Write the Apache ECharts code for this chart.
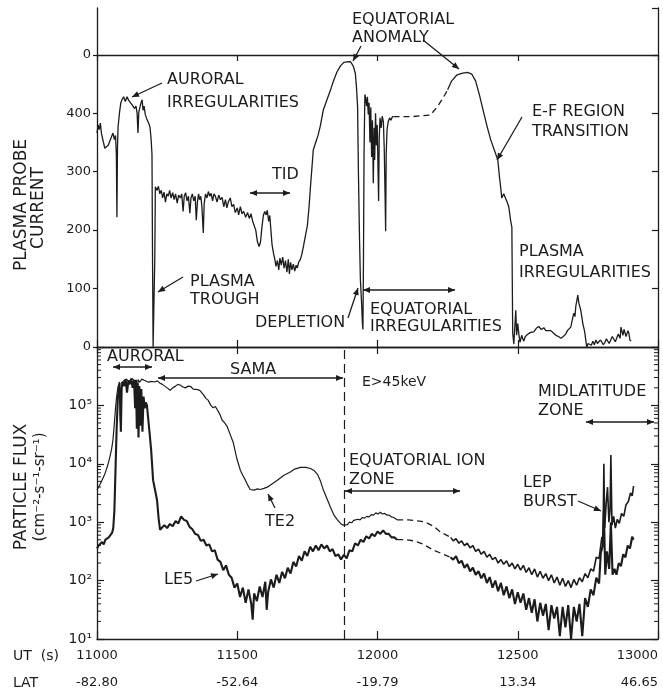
<!DOCTYPE html>
<html><head><meta charset="utf-8">
<script src="https://cdn.jsdelivr.net/npm/echarts@6/dist/echarts.min.js"></script>
<style>html,body{margin:0;padding:0;background:#fff}#c{width:663px;height:688px}</style>
</head><body><div id="c"></div>
<script>
// ---- tick labels ----
const utTicks = [11000, 11500, 12000, 12500, 13000];
const latTicks = ['-82.80', '-52.64', '-19.79', '13.34', '46.65'];
const probeTicks = [0, 100, 200, 300, 400, 500];
const probeTickLabels = ['0', '100', '200', '300', '400', '0'];
const fluxDecades = [1, 2, 3, 4, 5];
const boundaryUT = 11880;

// ---- plasma probe current [UT, current] ----
const plasmaA = [[11000,366],[11004,380],[11008,372],[11012,383],[11016,365],[11022,352],[11028,340],[11034,337],[11040,345],[11046,342],[11052,360],[11057,366],[11062,355],[11066,362],[11069,330],[11071,222],[11073,340],[11075,376],[11080,400],[11085,418],[11089,423],[11095,428],[11101,420],[11107,428],[11113,422],[11119,425],[11124,415],[11129,417],[11134,408],[11139,412],[11143,400],[11146,366],[11149,402],[11153,410],[11157,418],[11161,423],[11164,405],[11168,412],[11172,398],[11176,392],[11180,394],[11185,382],[11189,376],[11193,355],[11196,330],[11198,150],[11200,0],[11204,0],[11206,150],[11208,274],[11214,268],[11219,275],[11224,262],[11229,268],[11234,255],[11239,265],[11244,248],[11249,262],[11254,258],[11259,268],[11264,255],[11270,264],[11275,252],[11280,262],[11286,246],[11291,260],[11297,255],[11302,262],[11307,232],[11311,258],[11316,264],[11321,250],[11326,258],[11331,229],[11335,255],[11340,262],[11345,250],[11350,258],[11354,217],[11358,248],[11362,262],[11366,252],[11370,258],[11374,240],[11379,195],[11382,245],[11387,262],[11392,255],[11397,266],[11402,258],[11407,263],[11412,250],[11417,262],[11422,258],[11428,248],[11434,260],[11440,252],[11446,256],[11452,240],[11458,252],[11463,238],[11468,248],[11475,255],[11481,240],[11487,244],[11493,230],[11500,238],[11505,226],[11511,240],[11517,228],[11523,232],[11530,222],[11537,230],[11543,220],[11549,228],[11555,215],[11560,218],[11566,200],[11572,180],[11578,172],[11583,180],[11588,205],[11593,225],[11598,232],[11603,226],[11607,234],[11612,215],[11616,225],[11620,200],[11624,175],[11629,161],[11634,150],[11638,138],[11643,148],[11648,132],[11652,152],[11657,140],[11662,154],[11667,135],[11672,148],[11677,128],[11682,150],[11686,125],[11690,145],[11695,132],[11700,142],[11705,130],[11710,140],[11714,135],[11719,145],[11725,150],[11730,158],[11736,172],[11743,190],[11750,208],[11756,240],[11761,274],[11766,305],[11771,337],[11779,349],[11788,362],[11796,378],[11807,406],[11816,418],[11825,430],[11834,442],[11843,455],[11855,470],[11868,481],[11880,487],[11893,488],[11904,488],[11914,480],[11921,468],[11925,445],[11929,411],[11932,298],[11936,183],[11939,115],[11943,78],[11946,42],[11948,30],[11950,150],[11952,330],[11955,432],[11958,425],[11961,412],[11964,428],[11967,398],[11970,418],[11973,350],[11976,410],[11979,325],[11982,388],[11985,280],[11988,375],[11990,320],[11993,400],[11996,345],[11999,380],[12002,300],[12004,250],[12006,355],[12009,392],[12013,375],[12017,395],[12021,385],[12024,340],[12027,260],[12029,198],[12031,330],[12034,372],[12038,385],[12043,392],[12048,388],[12053,394],[12057,394]];
const plasmaGap = [[12057,394],[12120,394],[12189,397],[12215,412],[12236,428],[12250,440]];
const plasmaB = [[12250,440],[12264,455],[12282,465],[12300,468],[12321,470],[12336,467],[12350,455],[12364,430],[12379,400],[12392,375],[12404,354],[12418,335],[12429,320],[12435,290],[12439,274],[12443,255],[12446,252],[12450,262],[12457,265],[12462,248],[12468,240],[12475,215],[12479,205],[12482,24],[12486,5],[12489,30],[12493,63],[12496,20],[12500,40],[12504,22],[12508,8],[12514,20],[12521,10],[12527,18],[12536,22],[12546,25],[12557,26],[12566,32],[12575,35],[12584,30],[12593,33],[12600,28],[12607,30],[12618,28],[12627,24],[12636,20],[12645,18],[12654,15],[12662,18],[12671,22],[12677,28],[12682,26],[12689,34],[12696,50],[12700,58],[12704,52],[12707,70],[12711,80],[12714,89],[12718,75],[12721,78],[12725,62],[12729,50],[12732,40],[12736,32],[12739,25],[12743,10],[12746,0],[12751,6],[12757,8],[12762,3],[12768,10],[12773,4],[12779,12],[12784,6],[12789,5],[12795,12],[12800,10],[12805,4],[12811,8],[12816,14],[12821,15],[12826,6],[12832,8],[12837,18],[12843,17],[12848,9],[12854,12],[12858,22],[12861,25],[12865,15],[12868,34],[12872,26],[12875,20],[12879,30],[12882,32],[12886,18],[12889,15],[12893,28],[12896,24],[12900,12],[12904,10]];

// ---- particle flux, stored as log10 of flux [UT, log10(flux)] ----
const te2A = [[11000,3.55],[11011,3.65],[11020,3.74],[11029,3.84],[11038,3.97],[11046,4.12],[11052,4.25],[11057,4.41],[11062,4.7],[11066,4.95],[11070,5.15],[11075,5.32],[11080,5.4],[11083,4.72],[11086,5.38],[11095,5.42],[11105,5.45],[11115,5.4],[11125,5.46],[11135,5.42],[11141,5.45],[11143,4.75],[11146,5.44],[11152,5.4],[11160,5.45],[11168,5.43],[11175,5.42],[11182,5.4],[11189,5.38],[11197,5.41],[11205,5.4],[11215,5.42],[11225,5.38],[11233,5.36],[11240,5.33],[11250,5.3],[11261,5.26],[11270,5.3],[11280,5.33],[11288,5.36],[11296,5.35],[11305,5.32],[11315,5.3],[11325,5.33],[11335,5.32],[11343,5.28],[11350,5.3],[11360,5.27],[11368,5.25],[11380,5.18],[11388,5.12],[11396,5.09],[11406,5.0],[11414,4.96],[11422,4.98],[11429,4.97],[11438,4.85],[11446,4.75],[11455,4.7],[11464,4.64],[11475,4.5],[11486,4.36],[11498,4.1],[11511,3.89],[11520,3.8],[11529,3.72],[11538,3.63],[11546,3.56],[11560,3.55],[11572,3.57],[11582,3.56],[11595,3.58],[11607,3.6],[11625,3.66],[11643,3.72],[11665,3.8],[11689,3.86],[11705,3.91],[11725,3.94],[11745,3.94],[11761,3.92],[11775,3.88],[11786,3.82],[11797,3.7],[11807,3.55],[11820,3.4],[11832,3.26],[11845,3.12],[11857,3.04],[11870,2.97],[11879,2.95],[11886,2.98],[11893,2.96],[11900,3.0],[11908,2.99],[11915,3.03],[11922,3.01],[11930,3.05],[11938,3.04],[11946,3.08],[11954,3.07],[11962,3.1],[11970,3.09],[11978,3.13],[11986,3.12],[11994,3.16],[12002,3.14],[12010,3.17],[12018,3.14],[12026,3.15],[12034,3.12],[12042,3.12],[12050,3.09],[12058,3.08],[12064,3.05],[12070,3.04]];
const te2Gap = [[12070,3.04],[12110,3.04],[12150,3.02],[12171,3.0],[12200,2.93],[12225,2.83],[12261,2.74]];
const te2B = [[12261,2.74],[12270,2.68],[12280,2.72],[12290,2.64],[12300,2.68],[12310,2.6],[12320,2.64],[12330,2.56],[12340,2.6],[12350,2.5],[12360,2.54],[12370,2.45],[12380,2.5],[12390,2.4],[12400,2.45],[12410,2.36],[12420,2.4],[12430,2.3],[12440,2.36],[12450,2.28],[12460,2.34],[12470,2.24],[12480,2.3],[12490,2.2],[12500,2.28],[12510,2.18],[12520,2.26],[12530,2.14],[12540,2.22],[12550,2.1],[12560,2.2],[12570,2.06],[12580,2.16],[12590,2.04],[12600,2.12],[12610,2.0],[12620,2.1],[12630,1.96],[12640,2.06],[12650,1.92],[12660,2.04],[12670,1.9],[12680,2.0],[12690,1.88],[12700,2.02],[12710,1.92],[12720,2.05],[12730,1.98],[12740,2.12],[12750,2.05],[12760,2.2],[12770,2.16],[12780,2.4],[12790,2.38],[12800,2.75],[12804,2.65],[12807,4.0],[12810,2.9],[12815,3.3],[12820,3.6],[12825,3.0],[12829,3.2],[12832,4.15],[12836,2.95],[12842,3.1],[12848,2.9],[12855,3.05],[12862,2.98],[12870,3.15],[12878,3.1],[12886,3.3],[12894,3.35],[12902,3.5],[12908,3.45],[12913,3.62]];
const le5A = [[11000,2.55],[11006,2.6],[11012,2.57],[11018,2.66],[11024,2.62],[11030,2.7],[11036,2.68],[11042,2.74],[11048,2.76],[11054,2.82],[11058,2.9],[11062,3.2],[11066,3.9],[11070,4.6],[11074,5.1],[11078,5.32],[11082,5.25],[11085,4.55],[11088,5.3],[11092,5.4],[11097,5.33],[11102,5.45],[11107,5.22],[11112,5.43],[11117,5.36],[11122,5.46],[11127,5.3],[11132,5.43],[11136,4.95],[11139,5.44],[11142,4.6],[11145,5.38],[11148,4.45],[11151,5.33],[11155,4.65],[11158,5.28],[11162,4.55],[11166,5.15],[11170,4.95],[11174,5.05],[11178,5.0],[11183,4.97],[11188,4.5],[11193,4.24],[11200,3.72],[11207,3.55],[11214,3.38],[11220,3.05],[11225,2.87],[11230,2.86],[11240,2.95],[11250,2.9],[11260,2.97],[11270,2.93],[11280,3.02],[11290,2.98],[11300,3.1],[11310,3.04],[11320,3.02],[11330,2.92],[11340,2.88],[11350,2.8],[11360,2.78],[11370,2.68],[11380,2.7],[11390,2.6],[11400,2.62],[11410,2.5],[11420,2.52],[11430,2.36],[11440,2.32],[11450,2.18],[11460,2.26],[11470,2.1],[11480,2.05],[11490,1.88],[11500,1.95],[11510,1.72],[11520,1.88],[11530,1.62],[11540,1.85],[11550,1.6],[11555,1.33],[11560,1.78],[11570,1.65],[11580,1.9],[11590,1.72],[11600,1.98],[11605,1.5],[11610,1.8],[11620,2.02],[11630,1.88],[11640,2.1],[11650,1.96],[11660,2.15],[11670,2.04],[11680,2.22],[11690,2.12],[11700,2.32],[11710,2.24],[11720,2.42],[11730,2.34],[11740,2.5],[11750,2.42],[11760,2.58],[11770,2.5],[11780,2.6],[11790,2.52],[11800,2.62],[11810,2.55],[11820,2.6],[11830,2.5],[11840,2.54],[11850,2.42],[11860,2.45],[11870,2.36],[11880,2.44],[11890,2.38],[11900,2.52],[11910,2.5],[11920,2.64],[11930,2.6],[11940,2.7],[11950,2.66],[11960,2.76],[11970,2.72],[11980,2.8],[11990,2.76],[12000,2.84],[12010,2.8],[12020,2.86],[12030,2.8],[12040,2.8],[12050,2.74],[12060,2.74],[12070,2.7]];
const le5Gap = [[12070,2.7],[12100,2.7],[12130,2.68],[12160,2.63],[12200,2.52],[12230,2.46],[12260,2.4]];
const le5B = [[12260,2.4],[12270,2.36],[12280,2.42],[12290,2.3],[12300,2.34],[12310,2.22],[12320,2.28],[12330,2.16],[12340,2.22],[12350,2.1],[12360,2.16],[12370,2.04],[12380,2.12],[12390,1.96],[12400,2.06],[12410,1.88],[12420,2.0],[12430,1.82],[12440,1.96],[12450,1.75],[12460,1.9],[12470,1.7],[12480,1.85],[12490,1.6],[12500,1.8],[12510,1.62],[12520,1.78],[12530,1.5],[12540,1.7],[12550,1.45],[12560,1.68],[12570,1.3],[12580,1.62],[12590,1.4],[12600,1.6],[12610,1.15],[12620,1.58],[12630,1.35],[12640,1.55],[12650,1.05],[12660,1.55],[12670,1.2],[12680,1.58],[12690,1.0],[12700,1.55],[12710,1.3],[12720,1.6],[12730,1.05],[12740,1.7],[12750,1.55],[12760,1.85],[12770,1.75],[12780,2.05],[12790,1.95],[12796,2.47],[12803,2.6],[12807,3.2],[12812,2.1],[12818,2.5],[12826,2.2],[12832,3.0],[12838,2.1],[12845,2.2],[12852,2.1],[12860,2.3],[12868,2.25],[12876,2.45],[12884,2.4],[12892,2.6],[12900,2.55],[12908,2.75],[12913,2.7]];

const toFlux = arr => arr.map(p => [p[0], Math.pow(10, p[1])]);
const minorFlux = [];
fluxDecades.forEach(d => { for (let k = 2; k <= 9; k++) minorFlux.push([utTicks[0], k * Math.pow(10, d)]); });

const INK = '#1c1c1c';
const FONT = '"DejaVu Sans", sans-serif';
const SUP = ['⁰','¹','²','³','⁴','⁵','⁶'];

// ---- annotation helpers (decoration only) ----
function txt(x, y, s, size, extra) {
  return Object.assign({ type: 'text', x: x, y: y, silent: true,
    style: { text: s, fill: INK, font: (size || 16) + 'px ' + FONT, align: 'left', verticalAlign: 'middle', textAlign: 'left', textVerticalAlign: 'middle' } }, extra || {});
}
function head(xt, yt, xf, yf) {
  const dx = xt - xf, dy = yt - yf, L = Math.hypot(dx, dy) || 1;
  const ux = dx / L, uy = dy / L, hl = 7, hw = 3;
  const bx = xt - ux * hl, by = yt - uy * hl;
  return { type: 'polygon', silent: true, shape: { points: [[xt, yt], [bx - uy * hw, by + ux * hw], [bx + uy * hw, by - ux * hw]] }, style: { fill: INK } };
}
function arrow(x1, y1, x2, y2, both) {
  const out = [{ type: 'line', silent: true, shape: { x1: x1, y1: y1, x2: x2, y2: y2 }, style: { stroke: INK, lineWidth: 1.3 } }, head(x2, y2, x1, y1)];
  if (both) out.push(head(x1, y1, x2, y2));
  return out;
}

const graphics = [].concat(
  // top panel
  [txt(167, 80, 'AURORAL'), txt(167, 103, 'IRREGULARITIES')], arrow(162, 83, 132, 97),
  [txt(272, 175, 'TID')], arrow(250, 193, 290, 193, true),
  [txt(190, 282, 'PLASMA'), txt(190, 300, 'TROUGH')], arrow(183, 277, 158, 292),
  [txt(352, 20, 'EQUATORIAL'), txt(352, 38, 'ANOMALY')], arrow(361, 46, 353, 61), arrow(423, 40, 459, 69),
  [txt(532, 112, 'E-F REGION'), txt(532, 132, 'TRANSITION')], arrow(522, 117, 497, 160),
  [txt(255, 323, 'DEPLETION')], arrow(348, 318, 358, 288),
  [txt(370, 310, 'EQUATORIAL'), txt(370, 327, 'IRREGULARITIES')], arrow(363, 290, 455, 290, true),
  [txt(519, 252, 'PLASMA'), txt(519, 273, 'IRREGULARITIES')],
  // bottom panel
  [txt(107, 357, 'AURORAL')], arrow(113, 367, 152, 367, true),
  [txt(230, 370, 'SAMA')], arrow(158, 378, 343, 378, true),
  [txt(362, 382, 'E>45keV', 14)],
  [txt(349, 461, 'EQUATORIAL ION'), txt(349, 480, 'ZONE')], arrow(345, 491, 460, 491, true),
  [txt(265, 522, 'TE2')], arrow(275, 508, 268, 494),
  [txt(164, 580, 'LE5')], arrow(196, 581, 218, 574),
  [txt(523, 483, 'LEP'), txt(523, 502, 'BURST')], arrow(578, 501, 601, 511),
  [txt(538, 392, 'MIDLATITUDE'), txt(538, 411, 'ZONE')], arrow(586, 422, 654, 422, true),
  // axis names
  [txt(22, 205, 'PLASMA PROBE', 17, { rotation: Math.PI / 2 }), txt(39, 208, 'CURRENT', 17, { rotation: Math.PI / 2 }),
   txt(22, 487, 'PARTICLE FLUX', 17, { rotation: Math.PI / 2 }), txt(40, 487, '(cm⁻²-s⁻¹-sr⁻¹)', 15, { rotation: Math.PI / 2 }),
   txt(13, 656, 'UT  (s)', 14), txt(13, 683, 'LAT', 14)]
);
graphics.forEach(g => { if (g.rotation) { g.style.align = 'center'; g.style.textAlign = 'center'; } });

const lineBase = (data, xi, yi, dashed, w) => ({
  type: 'line', data: data, xAxisIndex: xi, yAxisIndex: yi, showSymbol: false, symbol: 'none', silent: true,
  lineStyle: { color: INK, width: w || 1.2, type: dashed ? [6, 4] : 'solid' }, clip: true, z: 3
});

const axLine = { show: true, onZero: false, lineStyle: { color: INK, width: 1.3 } };
const opt = {
  animation: false,
  backgroundColor: '#fff',
  textStyle: { fontFamily: FONT, color: INK },
  grid: [
    { left: 97, right: 5, top: 8, height: 339, containLabel: false, outerBoundsMode: 'none' },
    { left: 97, right: 5, top: 347, height: 292, containLabel: false, outerBoundsMode: 'none' }
  ],
  xAxis: [
    { gridIndex: 0, type: 'value', min: utTicks[0], max: utTicks[4], interval: 500, position: 'bottom',
      axisLine: axLine, axisTick: { inside: true, length: 7, lineStyle: { color: INK, width: 1.2 } }, axisLabel: { show: false }, splitLine: { show: false } },
    { gridIndex: 0, type: 'value', min: utTicks[0], max: utTicks[4], interval: 500, position: 'top', offset: -47,
      axisLine: axLine, axisTick: { inside: true, length: 6, lineStyle: { color: INK, width: 1.2 } }, axisLabel: { show: false }, splitLine: { show: false } },
    { gridIndex: 1, type: 'value', min: utTicks[0], max: utTicks[4], interval: 500, position: 'bottom',
      axisLine: axLine, axisTick: { inside: true, length: 8, lineStyle: { color: INK, width: 1.2 } }, splitLine: { show: false },
      axisLabel: { margin: 3, fontSize: 13, lineHeight: 27, color: INK, fontFamily: FONT, alignMaxLabel: 'right',
        formatter: v => { const i = utTicks.indexOf(v); return i < 0 ? '' : v + '\n' + latTicks[i]; } } },
    { gridIndex: 1, type: 'value', min: utTicks[0], max: utTicks[4], interval: 500, position: 'top',
      axisLine: axLine, axisTick: { inside: true, length: 7, lineStyle: { color: INK, width: 1.2 } }, axisLabel: { show: false }, splitLine: { show: false } }
  ],
  yAxis: [
    { gridIndex: 0, type: 'value', min: 0, max: 580, interval: 100, position: 'left',
      axisLine: axLine, axisTick: { inside: false, length: 4, lineStyle: { color: INK, width: 1.2 } }, splitLine: { show: false },
      axisLabel: { margin: 6, fontSize: 13, color: INK, fontFamily: FONT, showMaxLabel: false,
        formatter: v => { const i = probeTicks.indexOf(v); return i < 0 ? '' : probeTickLabels[i]; } } },
    { gridIndex: 0, type: 'value', min: 0, max: 580, interval: 100, position: 'right',
      axisLine: axLine, axisTick: { inside: true, length: 6, lineStyle: { color: INK, width: 1.2 } }, axisLabel: { show: false }, splitLine: { show: false } },
    { gridIndex: 1, type: 'log', logBase: 10, min: 10, max: 1e6, position: 'left',
      axisLine: axLine, axisTick: { inside: true, length: 7, lineStyle: { color: INK, width: 1.2 } }, splitLine: { show: false },
      axisLabel: { margin: 5, fontSize: 14, color: INK, fontFamily: FONT,
        formatter: v => { const e = Math.round(Math.log10(v)); return fluxDecades.indexOf(e) < 0 ? '' : '10' + SUP[e]; } } },
    { gridIndex: 1, type: 'log', logBase: 10, min: 10, max: 1e6, position: 'right',
      axisLine: axLine, axisTick: { inside: true, length: 7, lineStyle: { color: INK, width: 1.2 } }, axisLabel: { show: false }, splitLine: { show: false } }
  ],
  series: [
    lineBase(plasmaA, 0, 0, false, 1.3),
    lineBase(plasmaGap, 0, 0, true, 1.3),
    lineBase(plasmaB, 0, 0, false, 1.3),
    Object.assign(lineBase(toFlux(te2A), 2, 2, false, 1.2), {
      markLine: { silent: true, symbol: 'none', label: { show: false },
        lineStyle: { color: INK, width: 1.2, type: [9, 5] }, data: [{ xAxis: boundaryUT }] } }),
    lineBase(toFlux(te2Gap), 2, 2, true, 1.3),
    lineBase(toFlux(te2B), 2, 2, false, 1.6),
    lineBase(toFlux(le5A), 2, 2, false, 2.1),
    lineBase(toFlux(le5Gap), 2, 2, true, 1.3),
    lineBase(toFlux(le5B), 2, 2, false, 2.1),
    { type: 'custom', xAxisIndex: 2, yAxisIndex: 2, data: minorFlux, silent: true, clip: false,
      renderItem: (params, api) => {
        const v = api.value(1);
        const pL = api.coord([utTicks[0], v]);
        const pR = api.coord([utTicks[4], v]);
        return { type: 'group', children: [
          { type: 'line', shape: { x1: pL[0], y1: pL[1], x2: pL[0] + 4, y2: pL[1] }, style: { stroke: INK, lineWidth: 1 } },
          { type: 'line', shape: { x1: pR[0] - 4, y1: pR[1], x2: pR[0], y2: pR[1] }, style: { stroke: INK, lineWidth: 1 } }
        ] };
      } }
  ],
  graphic: graphics
};
const chart = echarts.init(document.getElementById('c'), null, { renderer: 'canvas' });
chart.setOption(opt);
</script></body></html>
